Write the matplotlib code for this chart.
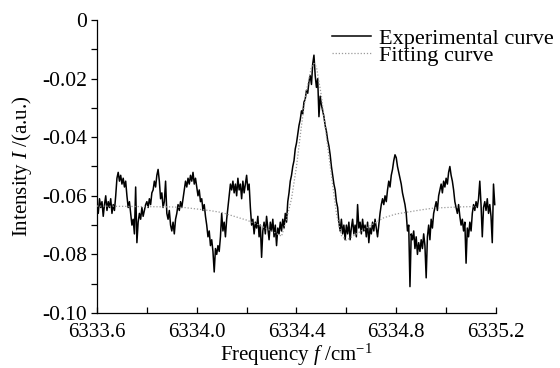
import numpy as np
import matplotlib
matplotlib.use("Agg")
import matplotlib.pyplot as plt
from matplotlib.ticker import MultipleLocator, FuncFormatter

plt.rcParams['font.family'] = ['Liberation Serif', 'DejaVu Serif']
plt.rcParams['mathtext.fontset'] = 'custom'
plt.rcParams['mathtext.rm'] = 'Liberation Serif'
plt.rcParams['mathtext.it'] = 'Liberation Serif:italic'
plt.rcParams['axes.unicode_minus'] = False

# Experimental curve: frequency start / step and intensity samples
freq_start = 6333.600
freq_step = 0.005
exp_intensity = [
    # 6333.600 - 6333.695
    -0.063, -0.066, -0.061, -0.064, -0.062, -0.067, -0.063, -0.060, -0.065, -0.062,
    -0.064, -0.061, -0.066, -0.063, -0.065, -0.060, -0.054, -0.052, -0.055, -0.053,
    # 6333.700 - 6333.795
    -0.056, -0.054, -0.057, -0.055, -0.060, -0.064, -0.062, -0.066, -0.070, -0.068,
    -0.073, -0.057, -0.076, -0.069, -0.066, -0.068, -0.064, -0.067, -0.065, -0.063,
    # 6333.800 - 6333.895
    -0.062, -0.064, -0.061, -0.063, -0.059, -0.058, -0.055, -0.057, -0.053, -0.051,
    -0.055, -0.061, -0.059, -0.064, -0.062, -0.055, -0.066, -0.068, -0.065, -0.070,
    # 6333.900 - 6333.995
    -0.072, -0.069, -0.073, -0.068, -0.066, -0.063, -0.065, -0.062, -0.064, -0.061,
    -0.058, -0.055, -0.057, -0.054, -0.056, -0.053, -0.055, -0.052, -0.056, -0.054,
    # 6334.000 - 6334.095
    -0.057, -0.060, -0.058, -0.062, -0.061, -0.065, -0.063, -0.067, -0.070, -0.074,
    -0.072, -0.077, -0.075, -0.079, -0.086, -0.078, -0.080, -0.077, -0.079, -0.074,
    # 6334.100 - 6334.195
    -0.066, -0.072, -0.069, -0.074, -0.068, -0.064, -0.060, -0.056, -0.058, -0.055,
    -0.059, -0.056, -0.060, -0.054, -0.058, -0.056, -0.061, -0.055, -0.059, -0.056,
    # 6334.200 - 6334.295
    -0.053, -0.058, -0.056, -0.064, -0.070, -0.068, -0.073, -0.069, -0.071, -0.067,
    -0.074, -0.070, -0.081, -0.072, -0.069, -0.073, -0.067, -0.071, -0.075, -0.069,
    # 6334.300 - 6334.395
    -0.072, -0.068, -0.074, -0.070, -0.077, -0.071, -0.073, -0.069, -0.072, -0.068,
    -0.071, -0.066, -0.069, -0.062, -0.059, -0.055, -0.053, -0.050, -0.048, -0.044,
    # 6334.400 - 6334.495
    -0.042, -0.039, -0.036, -0.034, -0.031, -0.032, -0.028, -0.027, -0.024, -0.025,
    -0.021, -0.019, -0.022, -0.015, -0.012, -0.019, -0.023, -0.020, -0.033, -0.026,
    # 6334.500 - 6334.595
    -0.029, -0.031, -0.033, -0.036, -0.038, -0.041, -0.043, -0.046, -0.050, -0.053,
    -0.056, -0.058, -0.062, -0.064, -0.069, -0.072, -0.068, -0.073, -0.070, -0.075,
    # 6334.600 - 6334.695
    -0.070, -0.073, -0.069, -0.075, -0.071, -0.068, -0.073, -0.070, -0.074, -0.063,
    -0.071, -0.069, -0.073, -0.068, -0.072, -0.070, -0.074, -0.069, -0.076, -0.071,
    # 6334.700 - 6334.795
    -0.073, -0.069, -0.072, -0.068, -0.071, -0.074, -0.070, -0.066, -0.063, -0.061,
    -0.063, -0.060, -0.062, -0.058, -0.055, -0.057, -0.053, -0.051, -0.048, -0.046,
    # 6334.800 - 6334.895
    -0.047, -0.050, -0.052, -0.054, -0.056, -0.059, -0.061, -0.063, -0.066, -0.072,
    -0.070, -0.091, -0.073, -0.075, -0.072, -0.078, -0.074, -0.080, -0.076, -0.079,
    # 6334.900 - 6334.995
    -0.075, -0.078, -0.073, -0.077, -0.088, -0.074, -0.070, -0.075, -0.068, -0.071,
    -0.066, -0.064, -0.062, -0.065, -0.060, -0.058, -0.056, -0.059, -0.055, -0.057,
    # 6335.000 - 6335.095
    -0.054, -0.056, -0.052, -0.050, -0.053, -0.055, -0.058, -0.062, -0.064, -0.066,
    -0.063, -0.067, -0.070, -0.068, -0.072, -0.069, -0.083, -0.071, -0.074, -0.069,
    # 6335.100 - 6335.195
    -0.072, -0.066, -0.063, -0.065, -0.062, -0.064, -0.061, -0.055, -0.063, -0.074,
    -0.064, -0.062, -0.065, -0.061, -0.066, -0.063, -0.067, -0.076, -0.056, -0.063,
]
exp_freq = freq_start + freq_step * np.arange(len(exp_intensity))

# Fitting curve
fit_freq = [6333.60, 6333.70, 6333.80, 6333.90, 6333.95, 6334.00, 6334.05, 6334.10,
            6334.15, 6334.20, 6334.25, 6334.30, 6334.34, 6334.36, 6334.38, 6334.40,
            6334.42, 6334.44, 6334.46, 6334.47, 6334.48, 6334.50, 6334.52, 6334.54,
            6334.56, 6334.58, 6334.60, 6334.65, 6334.70, 6334.75, 6334.80, 6334.85,
            6334.90, 6334.95, 6335.00, 6335.05, 6335.10, 6335.12]
fit_intensity = [-0.0635, -0.0636, -0.0637, -0.0638, -0.0640, -0.0645, -0.0650, -0.0657,
                 -0.0670, -0.0683, -0.0700, -0.0720, -0.0738, -0.0680, -0.0610, -0.0500,
                 -0.0360, -0.0240, -0.0160, -0.0148, -0.0160, -0.0260, -0.0400, -0.0530,
                 -0.0660, -0.0735, -0.0752, -0.0725, -0.0700, -0.0675, -0.0662, -0.0655,
                 -0.0648, -0.0642, -0.0640, -0.0638, -0.0637, -0.0637]

x_ticks = [6333.6, 6334.0, 6334.4, 6334.8, 6335.2]
y_ticks = [0, -0.02, -0.04, -0.06, -0.08, -0.10]

fig = plt.figure(figsize=(5.6, 3.68), dpi=100)
ax = fig.add_axes([97/560, 1-313/368, 399/560, 293/368])

ax.plot(exp_freq, exp_intensity, color='black', lw=1.1, label='Experimental curve', zorder=3)
ax.plot(fit_freq, fit_intensity, color='#9a9a9a', lw=0.9, linestyle=(0, (1, 1.5)),
        label='Fitting curve', zorder=4)

ax.set_xlim(6333.6, 6335.2)
ax.set_ylim(-0.10, 0)
ax.set_xticks(x_ticks)
ax.set_yticks(y_ticks)
ax.xaxis.set_minor_locator(MultipleLocator(0.2))
ax.yaxis.set_minor_locator(MultipleLocator(0.01))
ax.xaxis.set_major_formatter(FuncFormatter(lambda v, p: f"{v:.1f}"))
ax.yaxis.set_major_formatter(FuncFormatter(lambda v, p: "0" if abs(v) < 1e-9 else f"{v:.2f}"))

for s in ['top', 'right']:
    ax.spines[s].set_visible(False)
for s in ['left', 'bottom']:
    ax.spines[s].set_linewidth(0.9)

ax.tick_params(axis='x', which='both', direction='in', length=4, width=0.9,
               labelsize=15, pad=7)
ax.tick_params(axis='y', which='both', direction='out', length=4, width=0.9,
               labelsize=15.5, pad=3)

ax.set_xlabel('Frequency $f$ /cm$^{-1}$', fontsize=15, labelpad=0)
ax.set_ylabel('Intensity $I$ /(a.u.)', fontsize=15, labelpad=6)

leg = ax.legend(loc='upper left', bbox_to_anchor=(0.59, 0.972), frameon=False,
                fontsize=16, handlelength=1.75, handletextpad=0.35,
                labelspacing=-0.15, borderpad=0, borderaxespad=0)

fig.savefig('out.png', dpi=100)
